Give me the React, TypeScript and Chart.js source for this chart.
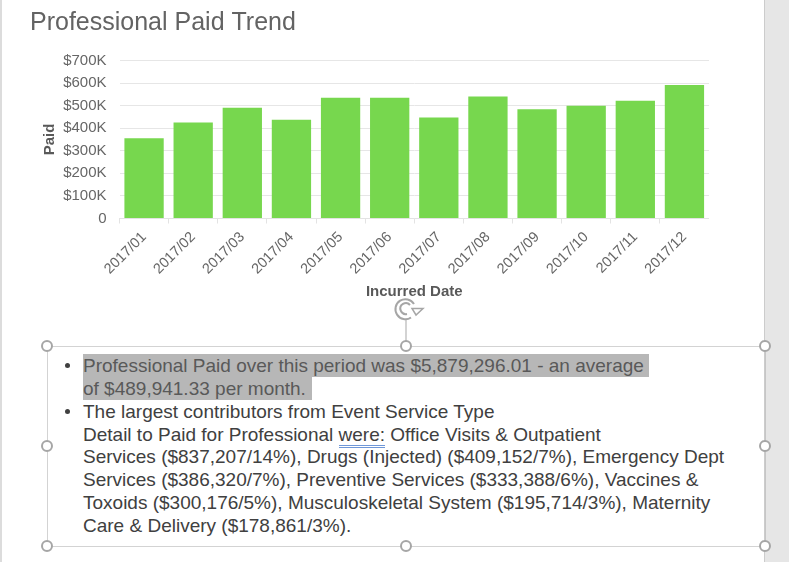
import React, { useEffect, useRef } from "react";
import { Chart, registerables } from "chart.js";

Chart.register(...registerables);

const categories = ["2017/01","2017/02","2017/03","2017/04","2017/05","2017/06","2017/07","2017/08","2017/09","2017/10","2017/11","2017/12"];
const paidValues = [356000,425000,491000,438000,535000,535000,447000,540000,484000,500000,522000,591000];
const chartTitle = "Professional Paid Trend";
const yTitle = "Paid";
const xTitle = "Incurred Date";
const FONT = '"Liberation Sans", Arial, sans-serif';

const highlightedLines = [
  { text: "Professional Paid over this period was $5,879,296.01 - an average", top: 354, width: 566 },
  { text: "of $489,941.33 per month.", top: 377, width: 229 },
];
const plainLines = [
  { top: 399.5, before: "The largest contributors from Event Service Type", under: "", after: "" },
  { top: 422.5, before: "Detail to Paid for Professional ", under: "were:", after: " Office Visits & Outpatient" },
  { top: 445, before: "Services ($837,207/14%), Drugs (Injected) ($409,152/7%), Emergency Dept", under: "", after: "" },
  { top: 468, before: "Services ($386,320/7%), Preventive Services ($333,388/6%), Vaccines &", under: "", after: "" },
  { top: 490.5, before: "Toxoids ($300,176/5%), Musculoskeletal System ($195,714/3%), Maternity", under: "", after: "" },
  { top: 513.5, before: "Care & Delivery ($178,861/3%).", under: "", after: "" },
];
const handles = [[47,346],[406,346],[765,346],[47,446],[765,446],[47,546],[406,546],[765,546]];

export default function App() {
  const ref = useRef<HTMLCanvasElement>(null);
  useEffect(() => {
    const chart = new Chart(ref.current!, {
      type: "bar",
      data: {
        labels: categories,
        datasets: [{ data: paidValues, backgroundColor: "#77d74e", barPercentage: 0.8, categoryPercentage: 1 }],
      },
      options: {
        animation: false,
        responsive: false,
        plugins: {
          legend: { display: false },
          tooltip: { enabled: false },
          title: {
            display: true,
            text: chartTitle,
            align: "start",
            color: "#636363",
            font: { family: FONT, size: 25, weight: "normal" },
            padding: { top: 8, bottom: 22.5 },
          },
        },
        scales: {
          x: {
            grid: { drawOnChartArea: false, color: "#e3e3e3", tickLength: 5 },
            border: { color: "#e3e3e3" },
            ticks: { autoSkip: false, minRotation: 45, maxRotation: 45, color: "#666666", padding: 5, font: { family: FONT, size: 14.5 } },
            title: { display: true, text: xTitle, color: "#595959", padding: { top: 0, bottom: 4 }, font: { family: FONT, size: 15, weight: "bold" } },
            afterFit: (s: any) => { s.height = 86.5; },
          },
          y: {
            min: 0,
            max: 700000,
            grid: { color: "#e6e6e6", drawTicks: false },
            border: { display: false },
            ticks: {
              stepSize: 100000,
              color: "#666666",
              padding: 13,
              font: { family: FONT, size: 15 },
              callback: (v: any) => (v === 0 ? "0" : `$${v / 1000}K`),
            },
            title: { display: true, text: yTitle, color: "#595959", padding: { top: 11, bottom: 0 }, font: { family: FONT, size: 15, weight: "bold" } },
            afterFit: (s: any) => { s.width = 89.5; },
          },
        },
      },
    } as any);
    return () => chart.destroy();
  }, []);

  const textBase: React.CSSProperties = { position: "absolute", left: 83, height: 23, lineHeight: "23px", fontSize: 19, whiteSpace: "pre" };
  return (
    <div style={{ position: "fixed", inset: 0, background: "#fff", overflow: "hidden", fontFamily: FONT }}>
      <div style={{ position: "absolute", left: 0, top: 0, width: 2, height: 562, background: "#dcdcdc" }} />
      <div style={{ position: "absolute", left: 764, top: 0, width: 25, height: 562, background: "#e6e6e6", borderLeft: "1px solid #cccccc", boxSizing: "border-box" }} />
      <canvas ref={ref} width={679} height={305} style={{ position: "absolute", left: 30, top: 0, width: 679, height: 305 }} />
      {highlightedLines.map((l) => (
        <div key={l.top} style={{ ...textBase, top: l.top, width: l.width, background: "#b7b7b7", color: "#595959" }}>{l.text}</div>
      ))}
      {plainLines.map((l) => (
        <div key={l.top} style={{ ...textBase, top: l.top, color: "#404040" }}>
          {l.before}
          {l.under && <span style={{ borderBottom: "3px double #6f97d8" }}>{l.under}</span>}
          {l.after}
        </div>
      ))}
      <div style={{ position: "absolute", left: 65, top: 363, width: 4.5, height: 4.5, borderRadius: 3, background: "#404040" }} />
      <div style={{ position: "absolute", left: 65, top: 409, width: 4.5, height: 4.5, borderRadius: 3, background: "#404040" }} />
      <svg width={789} height={562} style={{ position: "absolute", left: 0, top: 0, pointerEvents: "none" }}>
        <rect x={47.5} y={346.5} width={718} height={200} fill="none" stroke="#a6a6a6" strokeDasharray="1 1" />
        <line x1={406} y1={319} x2={406} y2={341} stroke="#c4c4c4" strokeWidth={1.5} />
        <path d="M 414 304 A 10 10 0 1 0 411 317.5" fill="none" stroke="#a6a6a6" strokeWidth={2} />
        <path d="M 410 305 A 5.5 5.5 0 1 0 407 314" fill="none" stroke="#a6a6a6" strokeWidth={2} />
        <path d="M 412 308.5 L 423 308.5 L 416 315 Z" fill="#fff" stroke="#a6a6a6" strokeWidth={1.5} />
        {handles.map(([x, y]) => (
          <circle key={`${x}-${y}`} cx={x} cy={y} r={5} fill="#fff" stroke="#a6a6a6" strokeWidth={2} />
        ))}
      </svg>
    </div>
  );
}
